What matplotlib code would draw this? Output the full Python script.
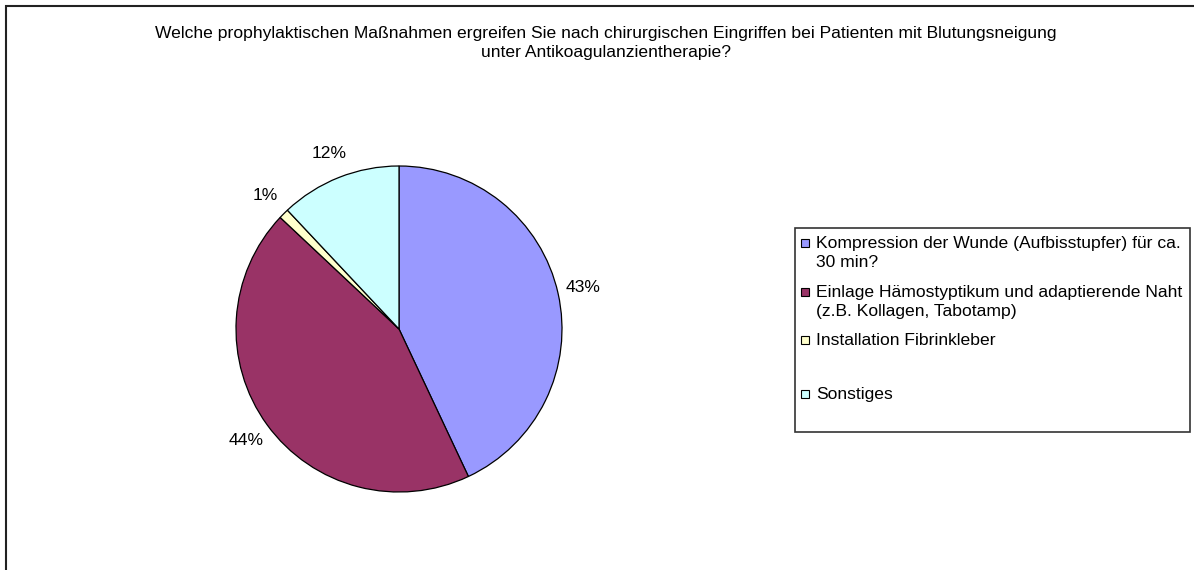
import matplotlib
matplotlib.use("Agg")
import matplotlib.pyplot as plt
from matplotlib.patches import Rectangle

title = ("Welche prophylaktischen Maßnahmen ergreifen Sie nach chirurgischen Eingriffen bei Patienten mit Blutungsneigung\n"
         "unter Antikoagulanzientherapie?")
categories = [
    "Kompression der Wunde (Aufbisstupfer) für ca.\n30 min?",
    "Einlage Hämostyptikum und adaptierende Naht\n(z.B. Kollagen, Tabotamp)",
    "Installation Fibrinkleber",
    "Sonstiges",
]
values = [43, 44, 1, 12]
colors = ["#9999FF", "#993366", "#FFFFCC", "#CCFFFF"]

plt.rcParams['font.family'] = ['Liberation Sans', 'DejaVu Sans']

W, H = 1194, 570
fig = plt.figure(figsize=(W / 100, H / 100), dpi=100)

# outer border (right and bottom beyond canvas)
fig.patches.append(Rectangle((6 / W, -0.1), 1.2, 1 - 6 / H + 0.1, transform=fig.transFigure,
                             fill=False, edgecolor="#222222", linewidth=1.5))

fig.text(606 / W, 1 - 43 / H, title, ha="center", va="center", fontsize=12.6,
         linespacing=1.3, color="black")

cx, cy, r = 399, 329, 163
ax = fig.add_axes([(cx - r) / W, 1 - (cy + r) / H, 2 * r / W, 2 * r / H])
wedges, texts, autotexts = ax.pie(
    values, colors=colors, startangle=90, counterclock=False,
    autopct=lambda p: f"{p:.0f}%", pctdistance=1.16,
    wedgeprops=dict(edgecolor="black", linewidth=0.9),
    textprops=dict(fontsize=12.6, color="black"))
ax.set_xlim(-1, 1)
ax.set_ylim(-1, 1)
ax.set_aspect("equal")
ax.axis("off")

# legend box
lx0, ly0, lx1, ly1 = 795, 228, 1190, 432
fig.patches.append(Rectangle((lx0 / W, 1 - ly1 / H), (lx1 - lx0) / W, (ly1 - ly0) / H,
                             transform=fig.transFigure, fill=True, facecolor="white",
                             edgecolor="#333333", linewidth=1.2))
entry_y = [243, 292, 340, 394]
for label, col, y in zip(categories, colors, entry_y):
    fig.patches.append(Rectangle((801 / W, 1 - (y + 4) / H), 8 / W, 8 / H,
                                 transform=fig.transFigure, facecolor=col,
                                 edgecolor="black", linewidth=0.8))
    fig.text(816 / W, 1 - (y - 7) / H, label, ha="left", va="top", fontsize=12.6,
             linespacing=1.3, color="black")

fig.savefig("out.png", dpi=100)
